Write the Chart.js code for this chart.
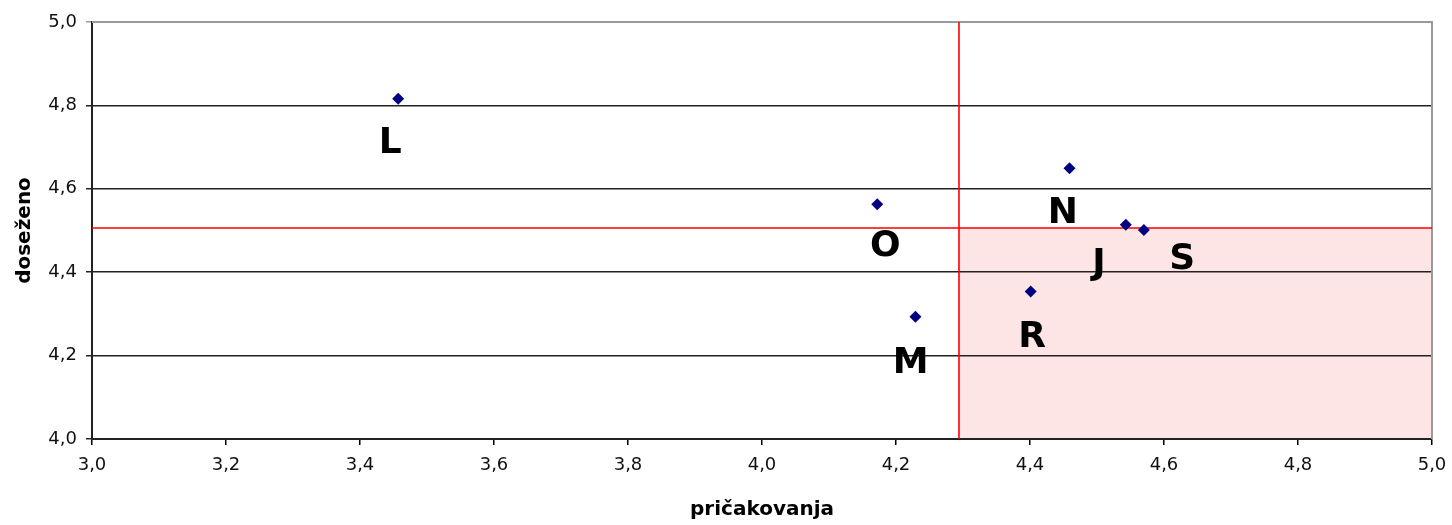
<!DOCTYPE html>
<html>
<head>
<meta charset="utf-8">
<script src="https://cdn.jsdelivr.net/npm/chart.js@4/dist/chart.umd.min.js"></script>
<style>
html,body{margin:0;padding:0;background:#fff;}
#wrap{width:1452px;height:525px;position:relative;}
</style>
</head>
<body>
<div id="wrap"><canvas id="c" width="1452" height="525"></canvas></div>
<script>
// ---- data ----
const pointNames = ['L', 'O', 'M', 'N', 'J', 'S', 'R'];
const expectations = [3.457, 4.172, 4.229, 4.459, 4.543, 4.570, 4.401]; // pričakovanja
const achieved     = [4.816, 4.563, 4.293, 4.649, 4.514, 4.501, 4.354]; // doseženo
// label anchors (data units)
const labelX = [3.445, 4.184, 4.222, 4.449, 4.503, 4.627, 4.403];
const labelY = [4.708, 4.461, 4.180, 4.540, 4.418, 4.430, 4.243];
const xThreshold = 4.294;
const yThreshold = 4.506;
const xTicks = [3.0, 3.2, 3.4, 3.6, 3.8, 4.0, 4.2, 4.4, 4.6, 4.8, 5.0];
const yTicks = [4.0, 4.2, 4.4, 4.6, 4.8, 5.0];
const xTitle = 'pričakovanja';
const yTitle = 'doseženo';

const FONT = 'DejaVu Sans';
const fmt = v => v.toFixed(1).replace('.', ',');

const quadrantPlugin = {
  id: 'quadrant',
  beforeDraw(chart) {
    const {ctx, chartArea: a, scales: {x, y}} = chart;
    const px = x.getPixelForValue(xThreshold);
    const py = y.getPixelForValue(yThreshold);
    ctx.save();
    ctx.fillStyle = '#fde5e5';
    ctx.fillRect(px, py, a.right - px, a.bottom - py);
    ctx.restore();
  },
  beforeDatasetsDraw(chart) {
    const {ctx, chartArea: a, scales: {x, y}} = chart;
    ctx.save();
    ctx.strokeStyle = '#9a9a9a';
    ctx.lineWidth = 2;
    ctx.beginPath();
    ctx.moveTo(a.left, a.top); ctx.lineTo(a.right, a.top); ctx.lineTo(a.right, a.bottom);
    ctx.stroke();
    const px = x.getPixelForValue(xThreshold);
    const py = y.getPixelForValue(yThreshold);
    ctx.strokeStyle = '#ff0000';
    ctx.lineWidth = 1.6;
    ctx.beginPath();
    ctx.moveTo(px, a.top); ctx.lineTo(px, a.bottom);
    ctx.moveTo(a.left, py); ctx.lineTo(a.right, py);
    ctx.stroke();
    ctx.restore();
  },
  afterDatasetsDraw(chart) {
    const {ctx, scales: {x, y}} = chart;
    ctx.save();
    ctx.fillStyle = '#000';
    ctx.font = 'bold 36px "' + FONT + '"';
    ctx.textAlign = 'center';
    ctx.textBaseline = 'middle';
    pointNames.forEach((n, i) => {
      ctx.fillText(n, x.getPixelForValue(labelX[i]), y.getPixelForValue(labelY[i]));
    });
    ctx.restore();
  }
};

new Chart(document.getElementById('c'), {
  type: 'scatter',
  data: {
    datasets: [{
      data: expectations.map((v, i) => ({x: v, y: achieved[i]})),
      pointStyle: 'rectRot',
      pointRadius: 6,
      pointHoverRadius: 6,
      backgroundColor: '#000080',
      borderColor: '#000080',
      borderWidth: 0
    }]
  },
  options: {
    responsive: false,
    animation: false,
    events: [],
    layout: {padding: {left: 0, right: 20, top: 22, bottom: 0}},
    plugins: {legend: {display: false}, tooltip: {enabled: false}},
    scales: {
      x: {
        type: 'linear', min: 3.0, max: 5.0,
        afterBuildTicks: s => { s.ticks = xTicks.map(v => ({value: v})); },
        afterFit: s => { s.height = 86; s.paddingRight = 20; s.paddingLeft = 0; },
        ticks: {
          callback: v => fmt(v),
          color: '#111',
          font: {family: FONT, size: 18},
          padding: 10
        },
        grid: {drawOnChartArea: false, color: '#000', tickLength: 6, lineWidth: 1.5},
        border: {color: '#222', width: 2},
        title: {
          display: true, text: xTitle, color: '#000',
          font: {family: FONT, size: 20, weight: 'bold'},
          padding: {top: 0, bottom: 3}
        }
      },
      y: {
        type: 'linear', min: 4.0, max: 5.0,
        afterBuildTicks: s => { s.ticks = yTicks.map(v => ({value: v})); },
        afterFit: s => { s.width = 92; s.paddingTop = 22; s.paddingBottom = 0; },
        ticks: {
          callback: v => fmt(v),
          color: '#111',
          font: {family: FONT, size: 18},
          padding: 9
        },
        grid: {
          color: c => (c.tick && c.tick.value === 5.0) ? '#9a9a9a' : '#222',
          lineWidth: 1.5,
          tickLength: 6
        },
        border: {color: '#222', width: 2},
        title: {
          display: true, text: yTitle, color: '#000',
          font: {family: FONT, size: 20, weight: 'bold'},
          padding: {top: 13, bottom: 0}
        }
      }
    }
  },
  plugins: [quadrantPlugin]
});
</script>
</body>
</html>
